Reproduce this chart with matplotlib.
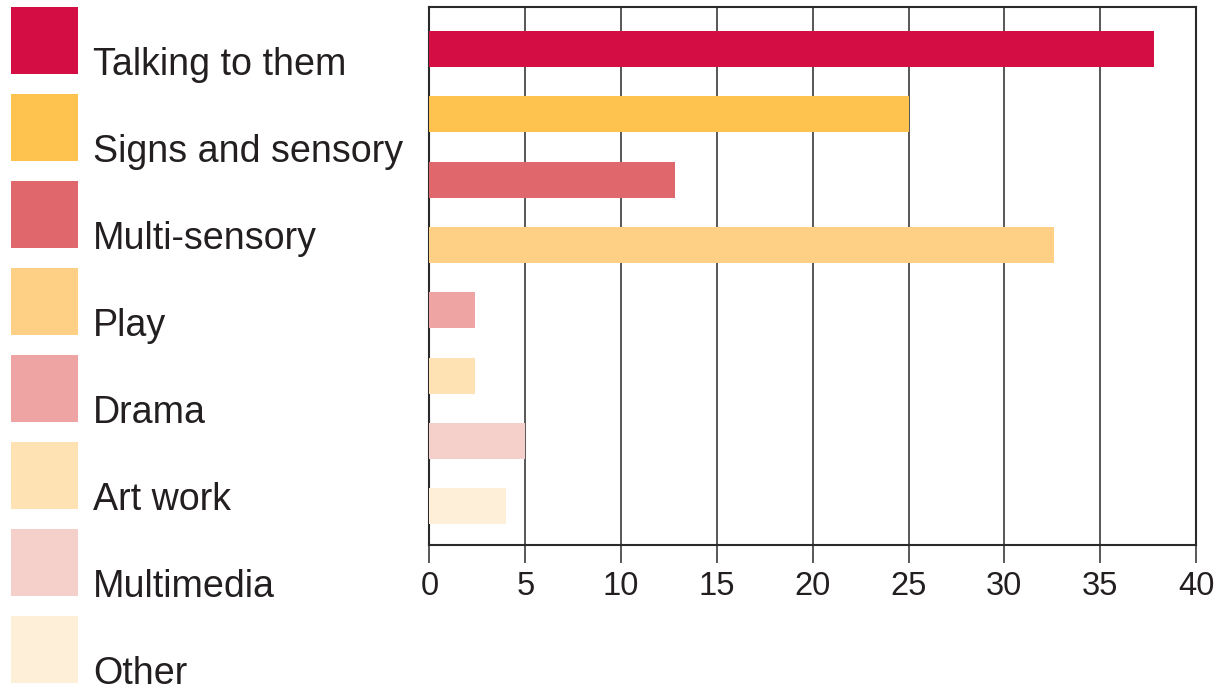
import matplotlib
matplotlib.use("Agg")
import matplotlib.pyplot as plt
from matplotlib.patches import Rectangle

plt.rcParams['font.family'] = ['Liberation Sans', 'DejaVu Sans']

categories = ["Talking to them", "Signs and sensory", "Multi-sensory", "Play",
              "Drama", "Art work", "Multimedia", "Other"]
values = [37.8, 25.0, 12.8, 32.6, 2.4, 2.4, 5.0, 4.0]
colors = ["#D40E45", "#FEC34E", "#E0676B", "#FED086",
          "#EDA4A3", "#FEE2B4", "#F5CFCA", "#FEF0D8"]
xticks = [0, 5, 10, 15, 20, 25, 30, 35, 40]

W, H = 1224, 690
fig = plt.figure(figsize=(W / 100, H / 100), dpi=100)
ax = fig.add_axes([429.5 / W, 1 - 545 / H, (1196 - 429.5) / W, (545 - 7) / H])

ypos = list(range(len(categories)))
ax.barh(ypos, values, height=0.55, color=colors, zorder=3)
ax.set_ylim(len(categories) - 1 + 0.59, -0.64)
ax.set_xlim(0, 40)
ax.set_xticks(xticks)
ax.set_xticklabels([str(t) for t in xticks])
ax.set_yticks([])
ax.xaxis.grid(True, color="#2a2a2a", linewidth=1.1, zorder=1)
ax.set_axisbelow(True)
for s in ax.spines.values():
    s.set_color("#2a2a2a")
    s.set_linewidth(1.5)
ax.tick_params(axis="x", length=13, width=1.1, color="#2a2a2a", pad=6,
               labelsize=23.5, labelcolor="#231f20")

# legend: colour squares with labels set to the lower right
sq = 67
for i, (name, c) in enumerate(zip(categories, colors)):
    top = 7 + 87 * i
    fig.add_artist(Rectangle((11 / W, 1 - (top + sq) / H), sq / W, sq / H,
                             transform=fig.transFigure, color=c, lw=0))
    fig.text(93 / W, 1 - (top + sq + 1) / H, name, fontsize=27.1,
             color="#231f20", va="baseline", ha="left")

fig.savefig("out.png", dpi=100)
